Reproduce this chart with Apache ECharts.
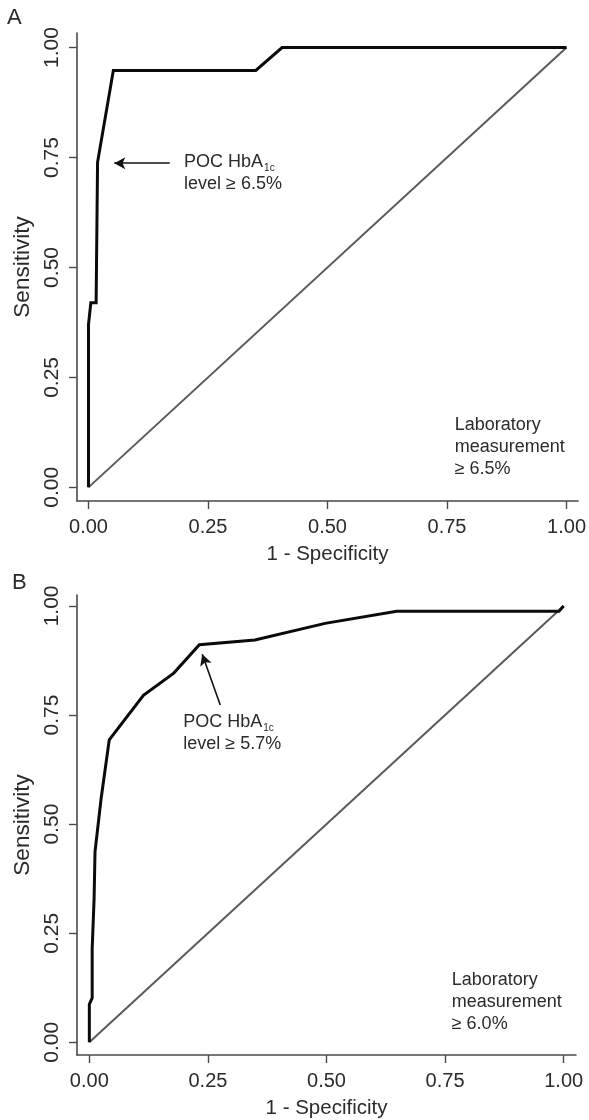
<!DOCTYPE html>
<html><head><meta charset="utf-8">
<script src="https://cdn.jsdelivr.net/npm/echarts@6/dist/echarts.min.js"></script>
<style>html,body{margin:0;padding:0;background:#fff}#c{width:589px;height:1120px}</style>
</head><body><div id="c"></div>
<script>
// ---- data ----
const TICKS = [0, 0.25, 0.5, 0.75, 1];
const TICK_LABELS = ['0.00', '0.25', '0.50', '0.75', '1.00'];
const PANELS = ['A', 'B'];
const X_NAME = '1 - Specificity';
const Y_NAME = 'Sensitivity';

const A_FPR = [0, 0, 0.005, 0.016, 0.019, 0.052, 0.350, 0.405, 1.0];
const A_TPR = [0, 0.370, 0.420, 0.420, 0.739, 0.948, 0.948, 1.0, 1.0];

const B_FPR = [0, 0, 0.006, 0.006, 0.010, 0.012, 0.025, 0.042, 0.114, 0.178, 0.232, 0.349, 0.497, 0.648, 0.990, 1.0];
const B_TPR = [0, 0.087, 0.102, 0.214, 0.328, 0.437, 0.560, 0.693, 0.795, 0.846, 0.911, 0.922, 0.960, 0.988, 0.988, 1.0];

const DIAG_X = [0, 1];
const DIAG_Y = [0, 1];

const A_ARROW = [[0.170, 0.737], [0.054, 0.737]];
const B_ARROW = [[0.276, 0.773], [0.238, 0.889]];
const A_NOTE = {pos: [0.20, 0.715], sub: '1c', line1: 'POC HbA', line2: 'level ≥ 6.5%'};
const B_NOTE = {pos: [0.198, 0.708], sub: '1c', line1: 'POC HbA', line2: 'level ≥ 5.7%'};
const A_LAB = {pos: [0.766, 0.092], lines: ['Laboratory', 'measurement', '≥ 6.5%']};
const B_LAB = {pos: [0.764, 0.093], lines: ['Laboratory', 'measurement', '≥ 6.0%']};

// ---- chart ----
const FONT = '"Liberation Sans", Arial, Helvetica, sans-serif';
const AXC = '#4a4a4a';
const TXT = '#2b2b2b';
const zip = (xs, ys) => xs.map((x, i) => [x, ys[i]]);

function xAxis(i, min, max) {
  return {
    type: 'value', gridIndex: i, min: min, max: max,
    name: X_NAME, nameLocation: 'middle', nameGap: 43,
    nameTextStyle: {fontFamily: FONT, fontSize: 20.5, color: TXT},
    axisLine: {show: true, onZero: false, lineStyle: {color: AXC, width: 1.6}},
    axisTick: {show: true, length: 8, inside: false, customValues: TICKS, lineStyle: {color: AXC, width: 1.4}},
    axisLabel: {show: true, customValues: TICKS, margin: 16, fontFamily: FONT, fontSize: 20, color: TXT,
      formatter: v => TICK_LABELS[TICKS.indexOf(v)] ?? v.toFixed(2)},
    splitLine: {show: false}
  };
}
function yAxis(i, min, max) {
  return {
    type: 'value', gridIndex: i, min: min, max: max,
    name: Y_NAME, nameLocation: 'middle', nameGap: 43, nameRotate: 90,
    nameTextStyle: {fontFamily: FONT, fontSize: 22.5, color: TXT},
    axisLine: {show: true, onZero: false, lineStyle: {color: AXC, width: 1.6}},
    axisTick: {show: true, length: 8, inside: false, customValues: TICKS, lineStyle: {color: AXC, width: 1.4}},
    axisLabel: {show: true, customValues: TICKS, rotate: 90, margin: 14, fontFamily: FONT, fontSize: 21, color: TXT,
      formatter: v => TICK_LABELS[TICKS.indexOf(v)] ?? v.toFixed(2)},
    splitLine: {show: false}
  };
}

const noteRich = {
  a: {fontFamily: FONT, fontSize: 18, lineHeight: 22, color: TXT},
  s: {fontFamily: FONT, fontSize: 10, lineHeight: 12, color: TXT, verticalAlign: 'bottom', padding: [0, 0, 0, 1]}
};

function rocSeries(i, fpr, tpr, arrow, note, lab) {
  return {
    type: 'line', xAxisIndex: i, yAxisIndex: i, data: zip(fpr, tpr),
    showSymbol: false, symbol: 'none', silent: true,
    lineStyle: {color: '#0a0a0a', width: 3, join: 'miter'}, z: 5,
    markLine: {
      silent: true, symbol: ['none', 'arrow'], symbolSize: [9, 11],
      lineStyle: {color: '#111', width: 1.6, type: 'solid'},
      label: {show: false},
      data: [[{coord: arrow[0]}, {coord: arrow[1]}]]
    },
    markPoint: {
      silent: true, symbol: 'circle', symbolSize: 0,
      data: [
        {coord: note.pos, label: {show: true, position: 'right', distance: 0,
          formatter: '{a|' + note.line1 + '}{s|' + note.sub + '}\n{a|' + note.line2 + '}', rich: noteRich}},
        {coord: lab.pos, label: {show: true, position: 'right', distance: 0,
          formatter: lab.lines.map(t => '{a|' + t + '}').join('\n'), rich: noteRich}}
      ]
    }
  };
}
function diagSeries(i) {
  return {
    type: 'line', xAxisIndex: i, yAxisIndex: i, data: zip(DIAG_X, DIAG_Y),
    showSymbol: false, symbol: 'none', silent: true,
    lineStyle: {color: '#5a5a5a', width: 2}, z: 3
  };
}

const chart = echarts.init(document.getElementById('c'), null, {renderer: 'canvas'});
chart.setOption({
  animation: false,
  backgroundColor: '#ffffff',
  grid: [
    {left: 77, top: 33, width: 503, height: 468},
    {left: 77, top: 595, width: 499, height: 462}
  ],
  xAxis: [xAxis(0, -0.024, 1.024), xAxis(1, -0.026, 1.026)],
  yAxis: [yAxis(0, -0.031, 1.033), yAxis(1, -0.029, 1.025)],
  graphic: [
    {type: 'text', left: 7, top: 7, style: {text: PANELS[0], fontFamily: FONT, fontSize: 22, fill: TXT}},
    {type: 'text', left: 12, top: 572, style: {text: PANELS[1], fontFamily: FONT, fontSize: 22, fill: TXT}}
  ],
  series: [
    diagSeries(0), rocSeries(0, A_FPR, A_TPR, A_ARROW, A_NOTE, A_LAB),
    diagSeries(1), rocSeries(1, B_FPR, B_TPR, B_ARROW, B_NOTE, B_LAB)
  ]
});
</script>
</body></html>
